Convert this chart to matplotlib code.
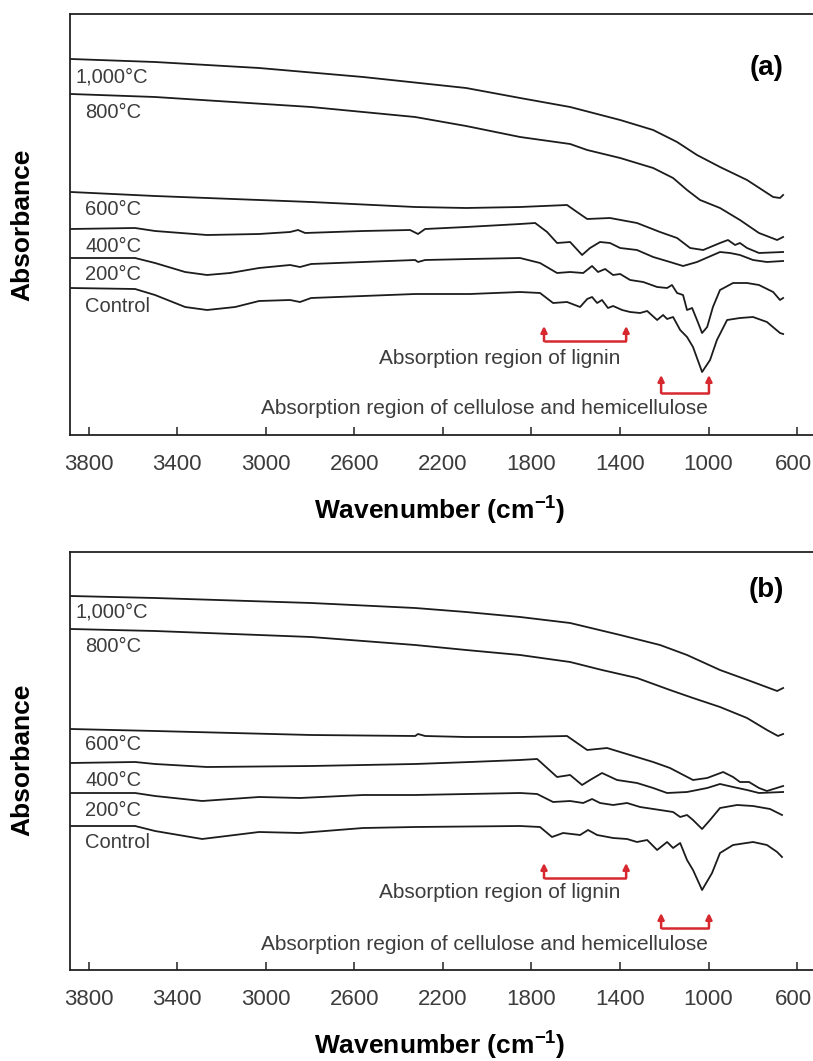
import matplotlib
matplotlib.use("Agg")
import matplotlib.pyplot as plt
from matplotlib.transforms import ScaledTranslation

plt.rcParams['font.family'] = ['Liberation Sans', 'DejaVu Sans']
plt.rcParams['mathtext.fontset'] = 'custom'
plt.rcParams['mathtext.rm'] = 'Liberation Sans'
plt.rcParams['mathtext.bf'] = 'Liberation Sans:bold'

# ---------------- data (wavenumber cm-1, absorbance in arbitrary offset units) ----------------
series_names = ['1,000°C', '800°C', '600°C', '400°C', '200°C', 'Control']

# Panel (a)
a1000_wn = [3880, 3500, 3030, 2560, 2095, 1851, 1625, 1399, 1250, 1142, 1052, 948, 826, 708, 677, 663]
a1000_ab = [3.76, 3.73, 3.67, 3.58, 3.47, 3.37, 3.28, 3.15, 3.05, 2.93, 2.80, 2.68, 2.55, 2.38, 2.37, 2.40]

a800_wn = [3880, 3500, 2795, 2325, 2095, 1851, 1625, 1548, 1399, 1250, 1160, 1097, 1038, 948, 858, 772, 690, 663]
a800_ab = [3.41, 3.38, 3.28, 3.18, 3.09, 2.98, 2.91, 2.85, 2.77, 2.67, 2.57, 2.45, 2.35, 2.27, 2.15, 2.02, 1.95, 1.98]

a600_wn = [3880, 3500, 2795, 2325, 2095, 1851, 1639, 1594, 1548, 1445, 1323, 1219, 1142, 1083, 1024, 948, 912, 880, 858, 826, 772, 663]
a600_ab = [2.43, 2.39, 2.33, 2.28, 2.27, 2.28, 2.30, 2.23, 2.16, 2.17, 2.12, 2.03, 1.97, 1.87, 1.85, 1.92, 1.95, 1.90, 1.92, 1.87, 1.82, 1.83]

a400_wn = [3880, 3590, 3500, 3265, 3030, 2890, 2854, 2822, 2560, 2348, 2312, 2280, 2095, 1851, 1783, 1729, 1684,
           1625, 1571, 1535, 1490, 1445, 1399, 1323, 1250, 1174, 1115, 1052, 948, 903, 858, 799, 736, 663]
a400_ab = [2.06, 2.07, 2.04, 2.00, 2.01, 2.03, 2.05, 2.02, 2.04, 2.05, 2.01, 2.06, 2.08, 2.11, 2.12, 2.03, 1.92,
           1.93, 1.80, 1.87, 1.93, 1.92, 1.87, 1.85, 1.78, 1.73, 1.69, 1.73, 1.83, 1.82, 1.80, 1.75, 1.73, 1.74]

a200_wn = [3880, 3590, 3500, 3364, 3265, 3161, 3030, 2890, 2845, 2795, 2560, 2325, 2312, 2280, 2077, 1851, 1761,
           1684, 1625, 1566, 1526, 1499, 1467, 1431, 1399, 1354, 1295, 1232, 1187, 1165, 1142, 1115, 1097, 1074,
           1052, 1029, 1006, 980, 948, 889, 826, 772, 708, 677, 663]
a200_ab = [1.77, 1.77, 1.72, 1.63, 1.60, 1.62, 1.67, 1.70, 1.68, 1.71, 1.73, 1.75, 1.73, 1.75, 1.76, 1.77, 1.72,
           1.62, 1.63, 1.62, 1.69, 1.63, 1.66, 1.60, 1.61, 1.55, 1.53, 1.48, 1.47, 1.50, 1.42, 1.40, 1.25, 1.27,
           1.15, 1.02, 1.08, 1.28, 1.45, 1.52, 1.52, 1.50, 1.43, 1.35, 1.37]

actl_wn = [3880, 3590, 3500, 3364, 3265, 3138, 3030, 2890, 2845, 2795, 2560, 2325, 2077, 1851, 1761, 1702, 1639,
           1580, 1548, 1526, 1503, 1481, 1454, 1431, 1390, 1354, 1309, 1277, 1232, 1205, 1187, 1160, 1128, 1097,
           1070, 1029, 993, 962, 916, 858, 799, 736, 677, 663]
actl_ab = [1.47, 1.46, 1.40, 1.28, 1.25, 1.28, 1.34, 1.35, 1.33, 1.37, 1.39, 1.41, 1.41, 1.43, 1.42, 1.32, 1.33,
           1.28, 1.36, 1.38, 1.32, 1.35, 1.27, 1.29, 1.25, 1.23, 1.22, 1.24, 1.15, 1.20, 1.16, 1.18, 1.05, 0.98,
           0.88, 0.63, 0.75, 0.95, 1.15, 1.17, 1.18, 1.13, 1.02, 1.01]

# Panel (b)
b1000_wn = [3880, 3500, 2795, 2325, 2095, 1851, 1625, 1399, 1219, 1097, 948, 799, 690, 663]
b1000_ab = [3.74, 3.72, 3.67, 3.62, 3.58, 3.53, 3.47, 3.35, 3.25, 3.15, 3.00, 2.88, 2.79, 2.82]

b800_wn = [3880, 3500, 2795, 2325, 2095, 1851, 1625, 1481, 1323, 1174, 1070, 948, 826, 736, 686, 663]
b800_ab = [3.41, 3.39, 3.33, 3.25, 3.20, 3.15, 3.08, 3.00, 2.92, 2.80, 2.72, 2.63, 2.52, 2.40, 2.34, 2.36]

b600_wn = [3880, 3500, 2795, 2325, 2312, 2280, 2095, 1851, 1639, 1548, 1458, 1399, 1250, 1174, 1070, 1006, 934,
           889, 858, 817, 772, 736, 663]
b600_ab = [2.41, 2.39, 2.35, 2.34, 2.36, 2.34, 2.33, 2.33, 2.34, 2.20, 2.22, 2.18, 2.08, 2.02, 1.90, 1.92, 1.98,
           1.93, 1.88, 1.88, 1.82, 1.79, 1.84]

b400_wn = [3880, 3590, 3500, 3265, 2795, 2325, 2077, 1851, 1774, 1729, 1684, 1625, 1571, 1535, 1481, 1413, 1323,
           1250, 1187, 1097, 1006, 948, 889, 826, 772, 663]
b400_ab = [2.07, 2.08, 2.06, 2.03, 2.04, 2.06, 2.08, 2.10, 2.11, 2.02, 1.93, 1.95, 1.85, 1.90, 1.97, 1.90, 1.87,
           1.82, 1.77, 1.78, 1.82, 1.86, 1.83, 1.80, 1.77, 1.78]

b200_wn = [3880, 3590, 3500, 3287, 3030, 2845, 2560, 2325, 1851, 1774, 1702, 1625, 1566, 1526, 1490, 1431, 1368,
           1309, 1219, 1160, 1128, 1097, 1070, 1029, 993, 948, 871, 799, 722, 668]
b200_ab = [1.77, 1.77, 1.74, 1.69, 1.73, 1.72, 1.75, 1.75, 1.77, 1.76, 1.68, 1.69, 1.67, 1.71, 1.67, 1.65, 1.67,
           1.63, 1.60, 1.58, 1.53, 1.55, 1.50, 1.41, 1.50, 1.62, 1.65, 1.64, 1.61, 1.55]

bctl_wn = [3880, 3590, 3500, 3287, 3030, 2845, 2560, 2325, 1851, 1761, 1707, 1657, 1580, 1544, 1503, 1431, 1368,
           1323, 1277, 1232, 1187, 1160, 1128, 1097, 1070, 1029, 984, 948, 889, 799, 736, 690, 668]
bctl_ab = [1.44, 1.44, 1.39, 1.31, 1.38, 1.37, 1.42, 1.43, 1.44, 1.43, 1.33, 1.37, 1.35, 1.40, 1.35, 1.32, 1.31,
           1.28, 1.30, 1.20, 1.28, 1.22, 1.27, 1.10, 1.00, 0.80, 0.97, 1.17, 1.25, 1.28, 1.25, 1.18, 1.13]

# Absorption-region brackets (wavenumber limits)
lignin_region = [1743, 1372]
cellulose_region = [1214, 998]

ticks = [3800, 3400, 3000, 2600, 2200, 1800, 1400, 1000, 600]

panels = [
    dict(tag='(a)',
         curves=[(a1000_wn, a1000_ab), (a800_wn, a800_ab), (a600_wn, a600_ab),
                 (a400_wn, a400_ab), (a200_wn, a200_ab), (actl_wn, actl_ab)],
         label_y=[3.58, 3.23, 2.26, 1.89, 1.60, 1.29],
         rect=[70 / 813, 1 - 435 / 1061, 743 / 813, 421 / 1061], ymax=4.21,
         tag_y=3.67, lig=(1.09, 0.94, 0.77), cel=(0.60, 0.42, 0.27),
         xlab_y=1 - 510 / 1061, ylab_y=1 - 225 / 1061),
    dict(tag='(b)',
         curves=[(b1000_wn, b1000_ab), (b800_wn, b800_ab), (b600_wn, b600_ab),
                 (b400_wn, b400_ab), (b200_wn, b200_ab), (bctl_wn, bctl_ab)],
         label_y=[3.58, 3.23, 2.25, 1.90, 1.60, 1.27],
         rect=[70 / 813, 1 - 970 / 1061, 743 / 813, 418 / 1061], ymax=4.18,
         tag_y=3.80, lig=(1.07, 0.92, 0.77), cel=(0.57, 0.42, 0.25),
         xlab_y=1 - 1045 / 1061, ylab_y=1 - 760 / 1061),
]

fig = plt.figure(figsize=(8.13, 10.61), dpi=100)
RED = '#d6282e'
LINE = '#1c1c1c'
GRAY = '#3c3c3c'

for p in panels:
    ax = fig.add_axes(p['rect'])
    ax.set_xlim(3884, 528)
    ax.set_ylim(0, p['ymax'])
    for (wn, ab) in p['curves']:
        ax.plot(wn, ab, color=LINE, lw=1.3, solid_joinstyle='round')
    for name, ly in zip(series_names, p['label_y']):
        lx = 3860 if name.startswith('1,') else 3815
        ax.text(lx, ly, name, fontsize=14.5, color=GRAY, ha='left', va='center')
    ax.text(740, p['tag_y'], p['tag'], fontsize=20, fontweight='bold', ha='center', va='center')

    # lignin bracket
    tip, base, ty = p['lig']
    ax.plot(lignin_region, [base, base], color=RED, lw=1.8, solid_capstyle='butt')
    for xw in lignin_region:
        ax.annotate('', xy=(xw, tip), xytext=(xw, base),
                    arrowprops=dict(arrowstyle='-|>', color=RED, lw=1.8, mutation_scale=9,
                                    shrinkA=0, shrinkB=0))
    ax.text(1941, ty, 'Absorption region of lignin', fontsize=15, color=GRAY, ha='center', va='center')
    # cellulose bracket
    tip, base, ty = p['cel']
    ax.plot(cellulose_region, [base, base], color=RED, lw=1.8, solid_capstyle='butt')
    for xw in cellulose_region:
        ax.annotate('', xy=(xw, tip), xytext=(xw, base),
                    arrowprops=dict(arrowstyle='-|>', color=RED, lw=1.8, mutation_scale=9,
                                    shrinkA=0, shrinkB=0))
    ax.text(1002, ty, 'Absorption region of cellulose and hemicellulose', fontsize=15, color=GRAY,
            ha='right', va='center')

    ax.set_xticks(ticks)
    ax.set_xticklabels([str(t) for t in ticks])
    ax.set_yticks([])
    ax.tick_params(axis='x', direction='in', length=6, width=1.1, pad=14, labelsize=16,
                   labelcolor=GRAY, color='#222222')
    # keep the last tick label ("600") inside the figure edge
    last = ax.get_xticklabels()[-1]
    last.set_transform(last.get_transform() + ScaledTranslation(-4 / 100, 0, fig.dpi_scale_trans))
    for s in ['left', 'bottom', 'top']:
        ax.spines[s].set_linewidth(1.3)
        ax.spines[s].set_color('#222222')
    ax.spines['right'].set_visible(False)

    fig.text(0.5 * (70 + 810) / 813, p['xlab_y'], r'Wavenumber (cm$^{\mathbf{-1}}$)',
             fontsize=19, fontweight='bold', ha='center', va='center')
    fig.text(22 / 813, p['ylab_y'], 'Absorbance', fontsize=19, fontweight='bold',
             rotation=90, ha='center', va='center')

fig.savefig('out.png', dpi=100)
